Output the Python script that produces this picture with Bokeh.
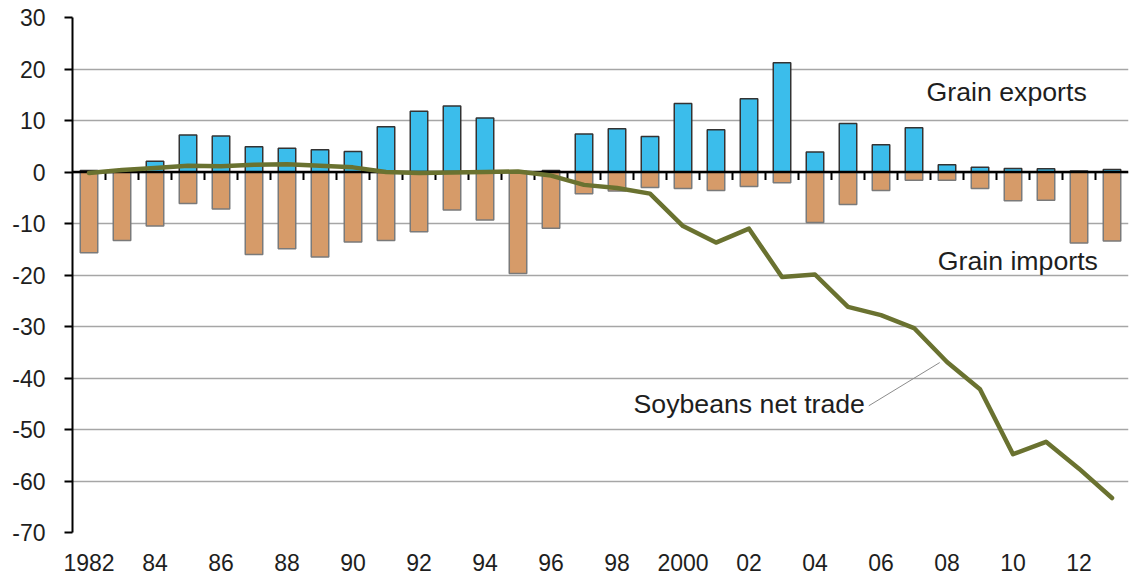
from bokeh.plotting import figure
from bokeh.models import FixedTicker, Label, Range1d
from bokeh.embed import file_html
from bokeh.resources import INLINE

# ---- data (million tonnes) ----
years = list(range(1982, 2014))
grain_exports = [0.3, 0.0, 2.1, 7.2, 7.0, 4.9, 4.6, 4.3, 4.0, 8.8, 11.8, 12.8, 10.5, 0.1, 0.3,
                 7.4, 8.4, 6.9, 13.3, 8.2, 14.2, 21.2, 3.9, 9.4, 5.3, 8.6, 1.4, 0.9, 0.7, 0.65, 0.2, 0.5]
grain_imports = [-15.7, -13.3, -10.5, -6.1, -7.2, -16.0, -14.9, -16.5, -13.6, -13.3, -11.6, -7.4, -9.3, -19.7, -10.9,
                 -4.2, -3.7, -3.0, -3.2, -3.6, -2.8, -2.1, -9.8, -6.3, -3.6, -1.6, -1.6, -3.2, -5.6, -5.5, -13.8, -13.4]
soy_net = [-0.2, 0.4, 0.8, 1.2, 1.1, 1.4, 1.5, 1.2, 0.9, 0.0, -0.2, -0.1, 0.0, 0.1, -0.7,
           -2.5, -3.1, -4.2, -10.5, -13.7, -11.0, -20.4, -19.9, -26.2, -27.8, -30.3, -36.9, -42.2, -54.8, -52.4, -57.6, -63.3]
tick_years = list(range(1982, 2014, 2))
tick_labels = ["1982", "84", "86", "88", "90", "92", "94", "96", "98", "2000",
               "02", "04", "06", "08", "10", "12"]
y_ticks = [30, 20, 10, 0, -10, -20, -30, -40, -50, -60, -70]
y_tick_labels = ["30", "20", "10", "0", "-10", "-20", "-30", "-40", "-50", "-60", "-70"]

FONT = "Liberation Sans"
TXT = "#1e1e1e"

p = figure(width=1129, height=580, output_backend="svg", toolbar_location=None,
           x_range=Range1d(years[0] - 0.5, years[-1] + 0.5), y_range=Range1d(-70, 30),
           min_border_left=72, min_border_right=1, min_border_top=17, min_border_bottom=48)
p.outline_line_color = None
p.background_fill_color = "white"
p.border_fill_color = "white"

# grid
p.xgrid.grid_line_color = None
p.ygrid.ticker = FixedTicker(ticks=y_ticks)
p.ygrid.grid_line_color = "#a6a6a6"
p.ygrid.grid_line_width = 1.5

# y axis
p.yaxis.ticker = FixedTicker(ticks=y_ticks)
p.yaxis.major_label_overrides = {t: l for t, l in zip(y_ticks, y_tick_labels)}
p.yaxis.axis_line_color = "black"
p.yaxis.axis_line_width = 2
p.yaxis.major_tick_line_color = "black"
p.yaxis.major_tick_line_width = 2
p.yaxis.major_tick_out = 8
p.yaxis.major_tick_in = 0
p.yaxis.minor_tick_line_color = None
p.yaxis.major_label_standoff = 19
p.yaxis.major_label_text_font = FONT
p.yaxis.major_label_text_font_size = "23px"
p.yaxis.major_label_text_color = TXT

# x axis (labels only)
p.xaxis.ticker = FixedTicker(ticks=tick_years)
p.xaxis.major_label_overrides = {y: l for y, l in zip(tick_years, tick_labels)}
p.xaxis.axis_line_color = None
p.xaxis.major_tick_line_color = None
p.xaxis.minor_tick_line_color = None
p.xaxis.major_tick_out = 0
p.xaxis.major_tick_in = 0
p.xaxis.major_label_standoff = 21
p.xaxis.major_label_text_font = FONT
p.xaxis.major_label_text_font_size = "23px"
p.xaxis.major_label_text_color = TXT

# bars
p.vbar(x=years, bottom=0, top=grain_imports, width=0.53,
       fill_color="#d69b69", line_color="#7a7a7a", line_width=1.5)
p.vbar(x=years, bottom=0, top=grain_exports, width=0.53,
       fill_color="#3bbdeb", line_color="#333333", line_width=1.5)

# zero line with category ticks
p.line(x=[years[0] - 0.5, years[-1] + 0.5], y=[0, 0], line_color="black", line_width=2.5)
bx = [y + 0.5 for y in years[:-1]]
p.segment(x0=bx, y0=[0] * len(bx), x1=bx, y1=[-1.55] * len(bx), line_color="black", line_width=2)

# soybeans line
p.line(x=years, y=soy_net, line_color="#6a7230", line_width=4.5, line_join="round", line_cap="round")

# annotations
p.add_layout(Label(x=2007.38, y=15.6, text="Grain exports", text_font=FONT,
                   text_font_size="26.7px", text_color=TXT, text_baseline="alphabetic"))
p.add_layout(Label(x=2007.72, y=-17.2, text="Grain imports", text_font=FONT,
                   text_font_size="26.7px", text_color=TXT, text_baseline="alphabetic"))
p.add_layout(Label(x=1998.5, y=-45.1, text="Soybeans net trade", text_font=FONT,
                   text_font_size="26.7px", text_color=TXT, text_baseline="alphabetic"))
p.segment(x0=[2005.63], y0=[-45.4], x1=[2007.78], y1=[-37.0], line_color="#8c8c8c", line_width=1)

open("out.html", "w").write(file_html(p, INLINE))
